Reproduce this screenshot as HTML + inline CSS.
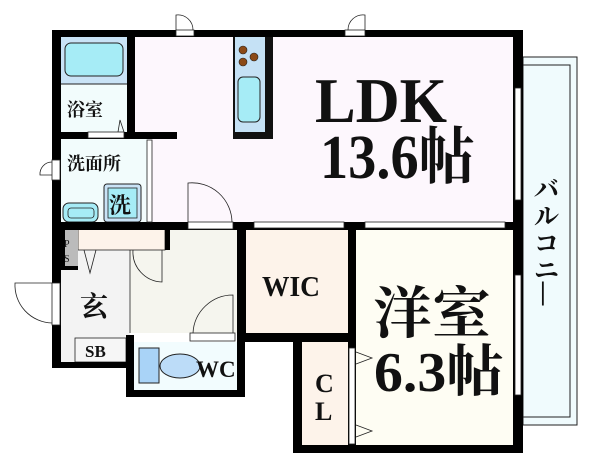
<!DOCTYPE html>
<html><head><meta charset="utf-8"><style>
html,body{margin:0;padding:0;background:#fff;width:600px;height:470px;overflow:hidden}
svg{display:block}
text{font-family:"Liberation Serif","Noto Serif CJK SC",serif;fill:#111}
.b{font-weight:bold}
</style></head><body>
<svg width="600" height="470" viewBox="0 0 600 470">
<rect x="523" y="57" width="54" height="368" fill="#f0fbfd" stroke="#222" stroke-width="1"/>
<rect x="523" y="65" width="47" height="352" fill="none" stroke="#222" stroke-width="1"/>
<rect x="135" y="37" width="378" height="186" fill="#fdf7fd"/>
<rect x="61" y="37" width="66" height="96" fill="#f2fcfc"/>
<rect x="61" y="139" width="87" height="84" fill="#f2fcfc"/>
<rect x="356" y="230" width="157" height="215" fill="#fefdf3"/>
<rect x="246" y="230" width="102" height="103" fill="#fdf3ea"/>
<rect x="302" y="342" width="46" height="103" fill="#fdf3ea"/>
<rect x="130" y="229" width="107" height="104" fill="#f5f5ee"/>
<rect x="61" y="250" width="69" height="112" fill="#f3f3f3"/>
<rect x="78" y="229" width="87" height="21" fill="#fdf3ea" stroke="#222" stroke-width="0.8"/>
<rect x="61" y="229" width="17" height="41" fill="#bbb"/>
<rect x="134" y="342" width="103" height="48" fill="#f2fcfe"/>
<rect x="75" y="338" width="51" height="24" fill="#f6f6f6" stroke="#222" stroke-width="0.8"/>
<rect x="61" y="37" width="66" height="47" fill="#c9e3f6"/>
<rect x="65" y="43" width="58" height="33" rx="6" fill="#a6ecf6" stroke="#222" stroke-width="1"/>
<line x1="61" y1="84" x2="127" y2="84" stroke="#222" stroke-width="1"/>
<rect x="233" y="37" width="40" height="102" fill="#111"/>
<rect x="235" y="37" width="30" height="95" fill="#c5e1f5"/>
<circle cx="243" cy="50" r="4" fill="#8b4a17" stroke="#222" stroke-width="0.6"/>
<circle cx="254" cy="57" r="4" fill="#8b4a17" stroke="#222" stroke-width="0.6"/>
<circle cx="243" cy="62" r="4" fill="#8b4a17" stroke="#222" stroke-width="0.6"/>
<rect x="238" y="77" width="22" height="45" rx="5" fill="#a6ecf6" stroke="#222" stroke-width="1"/>
<rect x="63" y="203" width="35" height="19" rx="6" fill="#a6ecf6" stroke="#222" stroke-width="1"/>
<rect x="68" y="208" width="26" height="10" rx="3" fill="none" stroke="#222" stroke-width="0.8"/>
<rect x="104" y="184" width="37" height="38" rx="3" fill="#c9e3f6" stroke="#222" stroke-width="1"/>
<rect x="108" y="188" width="29" height="30" fill="#a6ecf6" stroke="#222" stroke-width="0.8"/>
<rect x="139" y="348" width="20" height="35" fill="#a9d3f7" stroke="#222" stroke-width="1"/>
<ellipse cx="180" cy="366" rx="20" ry="12" fill="#bcdcf8" stroke="#222" stroke-width="1"/>
<g fill="#000">
<rect x="52" y="30" width="471" height="7"/>
<rect x="52" y="30" width="9" height="338"/>
<rect x="513" y="30" width="10" height="423"/>
<rect x="127" y="37" width="8" height="102"/>
<rect x="52" y="132" width="125" height="7"/>
<rect x="52" y="222" width="471" height="8"/>
<rect x="237" y="222" width="9" height="120"/>
<rect x="348" y="222" width="8" height="230"/>
<rect x="237" y="333" width="119" height="9"/>
<rect x="293" y="342" width="9" height="110"/>
<rect x="293" y="445" width="230" height="8"/>
<rect x="52" y="362" width="76" height="6"/>
<rect x="126" y="335" width="8" height="62"/>
<rect x="126" y="390" width="119" height="7"/>
<rect x="237" y="342" width="8" height="55"/>
<rect x="61" y="229" width="4" height="41"/>
<rect x="61" y="266" width="17" height="4"/>
<rect x="165" y="229" width="5" height="21"/>
</g>
<g fill="#fff" stroke="#222" stroke-width="0.8">
<rect x="176" y="30" width="18" height="6"/>
<rect x="345" y="30" width="20" height="6"/>
<rect x="88" y="132" width="36" height="6"/>
<rect x="52" y="160" width="8" height="20"/>
<rect x="188" y="222" width="45" height="7"/>
<rect x="254" y="222" width="90" height="6"/>
<rect x="365" y="222" width="140" height="6"/>
<rect x="52" y="283" width="8" height="42"/>
<rect x="190" y="333" width="45" height="8"/>
<rect x="515" y="88" width="6" height="112"/>
<rect x="515" y="275" width="6" height="120"/>
<rect x="349" y="348" width="6" height="96"/>
<rect x="147" y="140" width="5" height="82"/>
</g>
<g fill="none" stroke="#222" stroke-width="0.8">
<path d="M176 30 V15 A15 15 0 0 1 193 30"/>
<path d="M365 30 V15 A15 15 0 0 0 348 30"/>
<path d="M52 162 A12 12 0 0 0 40 175 H52"/>
<path d="M188 222 V183 A40 40 0 0 1 232 222"/>
<path d="M52 283 H15 A38 38 0 0 0 52 323"/>
<path d="M233 333 V295 A40 40 0 0 0 193 333"/>
<path d="M133 250 A30 30 0 0 0 162 282 V250"/>
<path d="M84 250 L90 273 L96 250"/>
<path d="M118 132 L120 120 L124 132"/>
<path d="M356 352 L372 358 L356 364"/>
<path d="M356 425 L372 431 L356 437"/>
<line x1="130" y1="250" x2="130" y2="333"/>
</g>
<text class="b" x="315" y="122" font-size="64" textLength="132" lengthAdjust="spacingAndGlyphs">LDK</text>
<text class="b" x="320" y="178" font-size="62" textLength="155" lengthAdjust="spacingAndGlyphs">13.6帖</text>
<text class="b" x="373" y="333" font-size="56" textLength="118" lengthAdjust="spacingAndGlyphs">洋室</text>
<text class="b" x="374" y="391" font-size="56" textLength="130" lengthAdjust="spacingAndGlyphs">6.3帖</text>
<text class="b" x="262" y="296" font-size="28" textLength="58" lengthAdjust="spacingAndGlyphs">WIC</text>
<text class="b" x="315" y="392" font-size="26">C</text>
<text class="b" x="315" y="420" font-size="26">L</text>
<text class="b" x="80" y="316" font-size="28">玄</text>
<text class="b" x="85" y="357" font-size="17">SB</text>
<text class="b" x="196" y="377" font-size="23">WC</text>
<text class="b" x="67" y="116" font-size="18">浴室</text>
<text class="b" x="67" y="170" font-size="18">洗面所</text>
<text class="b" x="109" y="213" font-size="22">洗</text>
<text x="64" y="247" font-size="10" fill="#444">P</text>
<text x="64" y="262" font-size="10" fill="#444">S</text>
<g font-size="25" class="b">
<text x="534" y="198">バ</text>
<text x="534" y="225">ル</text>
<text x="534" y="252">コ</text>
<text x="534" y="279">ニ</text>
<text x="540" y="300" font-size="26">|</text>
</g>
</svg>
</body></html>
